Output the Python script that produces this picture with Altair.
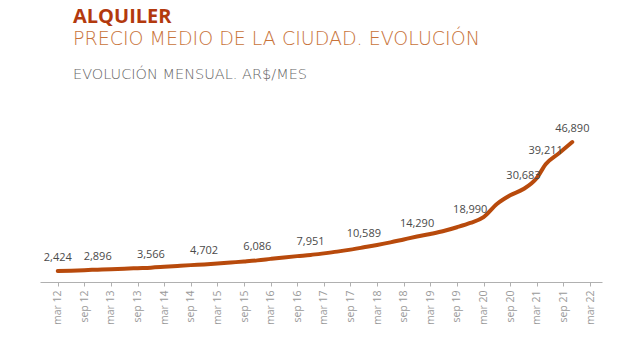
import altair as alt
import pandas as pd

# Monthly rent series, ARS / month
dates = ["2012-03", "2012-06", "2012-09", "2012-12", "2013-03", "2013-06", "2013-09", "2013-12",
         "2014-03", "2014-06", "2014-09", "2014-12", "2015-03", "2015-06", "2015-09", "2015-12",
         "2016-03", "2016-06", "2016-09", "2016-12", "2017-03", "2017-06", "2017-09", "2017-12",
         "2018-03", "2018-06", "2018-09", "2018-12", "2019-03", "2019-06", "2019-09", "2019-12",
         "2020-03", "2020-06", "2020-09", "2020-12", "2021-03", "2021-05", "2021-08", "2021-11"]
values = [2424, 2550, 2700, 2896, 3050, 3220, 3400, 3566,
          3850, 4150, 4450, 4702, 5000, 5350, 5700, 6086,
          6600, 7100, 7550, 7951, 8500, 9100, 9800, 10589,
          11400, 12300, 13300, 14290, 15200, 16200, 17500, 18990,
          21000, 25500, 28500, 30683, 34500, 39211, 43000, 46890]

label_dates = ["2012-03", "2012-12", "2013-12", "2014-12", "2015-12", "2016-12",
               "2017-12", "2018-12", "2019-12", "2020-12", "2021-05", "2021-11"]
label_values = [2424, 2896, 3566, 4702, 6086, 7951, 10589, 14290, 18990, 30683, 39211, 46890]

tick_months = list(range(0, 121, 6))  # mar 12 ... mar 22


def month_index(d):
    y, m = d.split("-")
    return (int(y) - 2012) * 12 + (int(m) - 3)


df = pd.DataFrame({"m": [month_index(d) for d in dates], "v": values})
lab = pd.DataFrame({"m": [month_index(d) for d in label_dates], "v": label_values,
                    "t": [f"{v:,}" for v in label_values]})

xscale = alt.Scale(domain=[-4, 122.7], nice=False, zero=False)
yscale = alt.Scale(domain=[-1369, 50000], nice=False, zero=False)

line = alt.Chart(df).mark_line(color="#b84a0c", strokeWidth=4, strokeCap="round",
                               interpolate="monotone").encode(
    x=alt.X("m:Q", scale=xscale, axis=alt.Axis(
        values=tick_months, tickCount=40, title=None, grid=False, labelOverlap=False,
        labelExpr="(datum.value % 12 == 0 ? 'mar ' : 'sep ') + (12 + floor(datum.value / 12))",
        labelAngle=270, labelAlign="right", labelBaseline="middle",
        labelColor="#9a9a9a", labelFont="Open Sans", labelFontSize=10.5, labelPadding=4,
        domainColor="#b0b0b0", tickColor="#b0b0b0", tickSize=4)),
    y=alt.Y("v:Q", scale=yscale, axis=None),
)

labels = alt.Chart(lab).mark_text(font="Open Sans", fontSize=11, color="#4a4a4a", dy=-13).encode(
    x=alt.X("m:Q", scale=xscale), y=alt.Y("v:Q", scale=yscale), text="t:N")

titles = pd.DataFrame({
    "t": ["ALQUILER", "PRECIO MEDIO DE LA CIUDAD. EVOLUCIÓN", "EVOLUCIÓN MENSUAL. AR$/MES"],
})

t1 = alt.Chart(titles.iloc[[0]]).mark_text(font="Open Sans", fontSize=20, fontWeight="bold",
                                           color="#b3390e", align="left", baseline="alphabetic").encode(
    x=alt.value(33), y=alt.value(-110), text="t:N")
t2 = alt.Chart(titles.iloc[[1]]).mark_text(font="DejaVu Sans", fontSize=19, fontWeight=200,
                                           color="#c8733a", align="left", baseline="alphabetic").encode(
    x=alt.value(33), y=alt.value(-88), text="t:N")
t3 = alt.Chart(titles.iloc[[2]]).mark_text(font="DejaVu Sans", fontSize=14.5, fontWeight=200,
                                           color="#666666", align="left", baseline="alphabetic").encode(
    x=alt.value(33), y=alt.value(-54), text="t:N")

chart = alt.layer(line, labels, t1, t2, t3).properties(
    width=562, height=149,
    background="white",
    autosize=alt.AutoSizeParams(type="none"),
    padding={"left": 40, "top": 133, "right": 38, "bottom": 56},
).configure_view(stroke="transparent", strokeWidth=0)

chart.save("out.html", embed_options={"renderer": "svg", "actions": False})
